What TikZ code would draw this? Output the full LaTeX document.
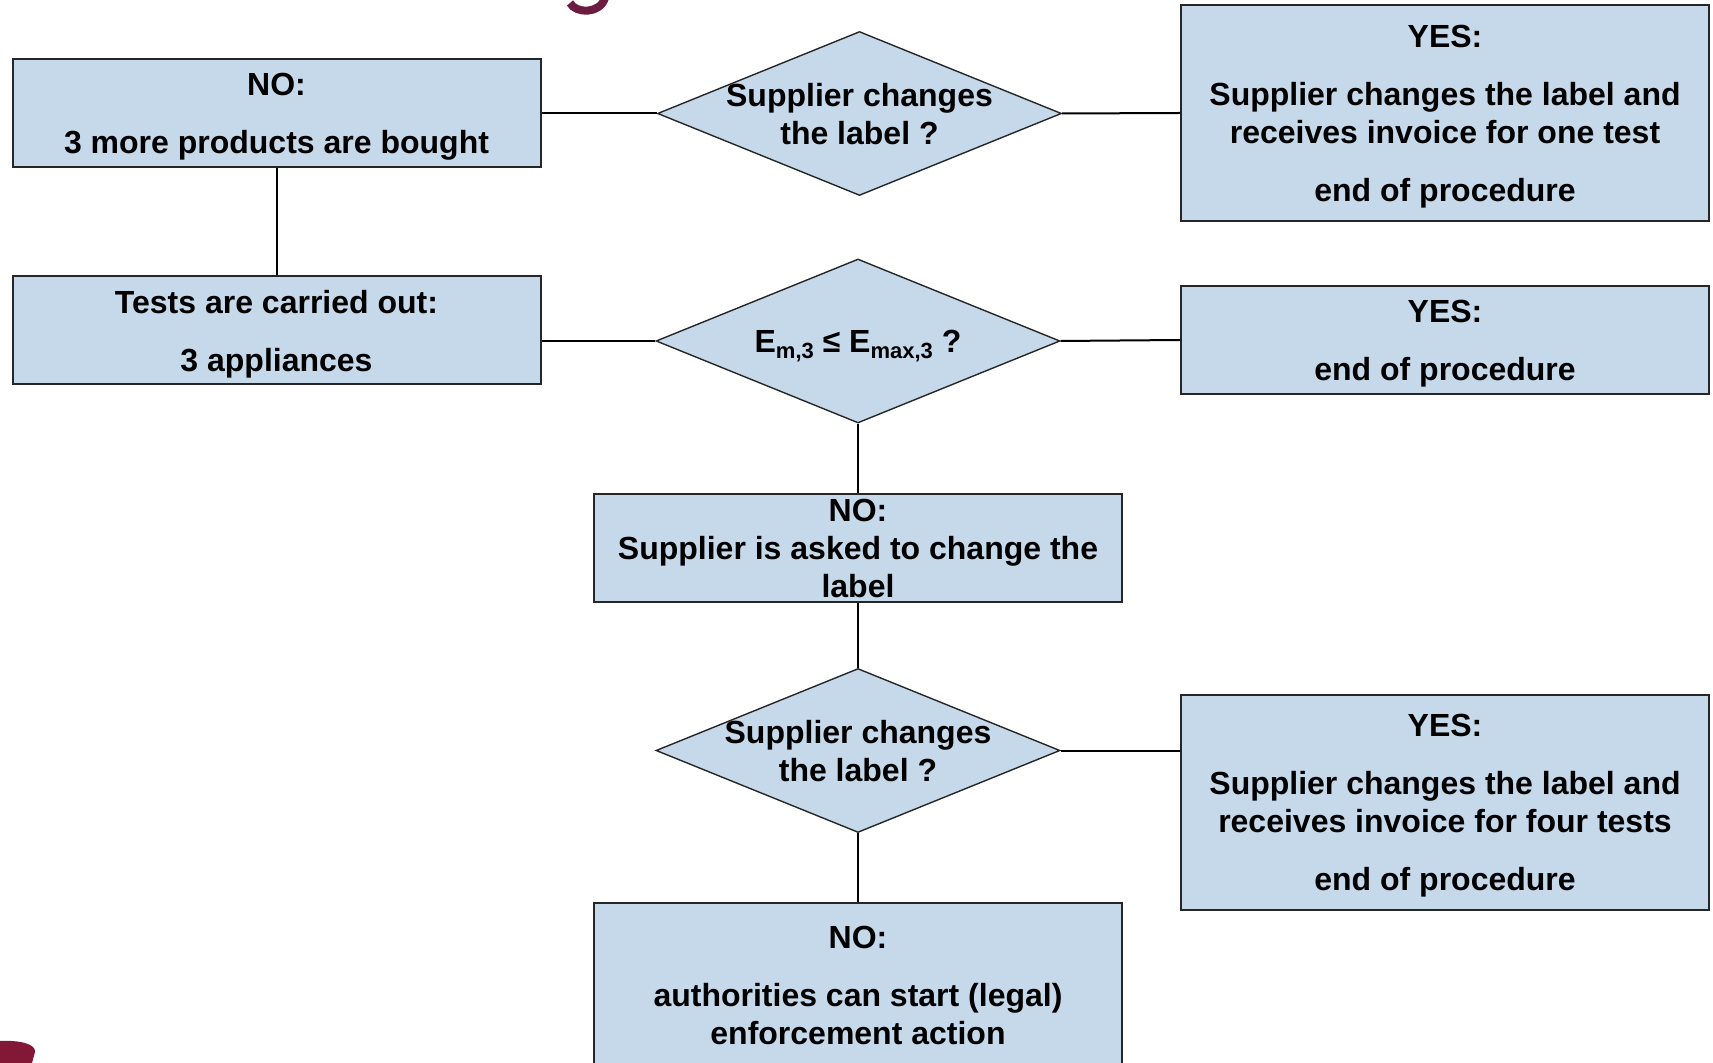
\documentclass[tikz,border=0pt]{standalone}
\usepackage{fontspec}
\setmainfont{Liberation Sans}
\usetikzlibrary{shapes.geometric}
\definecolor{boxblue}{RGB}{197,217,235}
\definecolor{slidered}{RGB}{108,28,64}
\tikzset{
  box/.style={draw=black!85, fill=boxblue, line width=1pt, inner sep=0pt, align=center, text depth=-3.5pt,
    minimum width=264pt, minimum height=54pt, font=\bfseries\fontsize{16}{19}\selectfont},
  decision/.style={diamond, aspect=2.47, draw=black!85, fill=boxblue, line width=0.7pt, inner xsep=-10pt, inner ysep=0pt,
    text depth=-2pt, minimum width=202pt, minimum height=82pt, align=center, font=\bfseries\fontsize{16}{19}\selectfont},
  link/.style={line width=1pt}
}
\newcommand{\lowidx}[1]{\raisebox{-0.4ex}{\fontsize{11}{12}\selectfont #1}}
\begin{document}
\begin{tikzpicture}[x=0.5pt, y=-0.5pt]
\useasboundingbox (0,0) rectangle (1713,1063);
\clip (0,0) rectangle (1713,1063);
\draw[slidered, line width=4pt] (570,3) .. controls (576,14) and (600,14) .. (605,-2);
\fill[slidered!85!red] (0,1041) .. controls (20,1040) and (36,1044) .. (35,1052) -- (32,1063) -- (0,1063) -- cycle;
\node[box] (nomore) at (276.5,113.5) {NO:\\[10pt]3 more products are bought};
\node[box] (tests) at (276.5,330.5) {Tests are carried out:\\[10pt]3 appliances};
\node[decision] (qone) at (859.5,113.5) {Supplier changes\\the label ?};
\node[decision] (qtwo) at (858,341) {E\lowidx{m,3} ≤ E\lowidx{max,3} ?};
\node[box] (ask) at (858,548.5) {NO:\\Supplier is asked to change the\\label};
\node[decision] (qthree) at (858,750.5) {Supplier changes\\the label ?};
\node[box, minimum height=82pt] (legal) at (858,985) {NO:\\[10pt]authorities can start (legal)\\enforcement action};
\node[box, minimum height=108pt] (yesone) at (1445,113) {YES:\\[10pt]Supplier changes the label and\\receives invoice for one test\\[10pt]end of procedure};
\node[box] (yestwo) at (1445,340) {YES:\\[10pt]end of procedure};
\node[box, minimum height=107.5pt] (yesthree) at (1445,802.5) {YES:\\[10pt]Supplier changes the label and\\receives invoice for four tests\\[10pt]end of procedure};
\draw[link] (nomore.east) -- (qone.west);
\draw[link] (qone.east) -- (yesone.west);
\draw[link] (nomore.south) -- (tests.north);
\draw[link] (qtwo.west) -- (qtwo.west -| tests.east);
\draw[link] (qtwo.east) -- (yestwo.west);
\draw[link] (qtwo.south) -- (ask.north);
\draw[link] (ask.south) -- (qthree.north);
\draw[link] (qthree.east) -- (qthree.east -| yesthree.west);
\draw[link] (qthree.south) -- (legal.north);
\end{tikzpicture}
\end{document}
